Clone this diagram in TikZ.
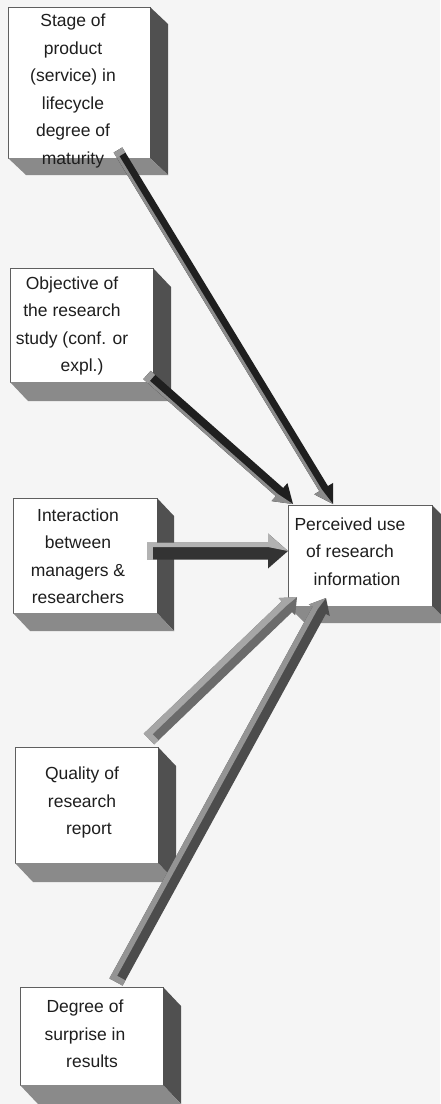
\documentclass[tikz,border=0pt]{standalone}
\usepackage{fontspec}
\setmainfont{Liberation Sans}
\usetikzlibrary{calc}

\definecolor{paper}{RGB}{245,245,245}
\definecolor{sidegray}{RGB}{80,80,80}
\definecolor{bottomgray}{RGB}{138,138,138}
\definecolor{frameline}{RGB}{95,95,95}
\definecolor{inkgray}{RGB}{30,30,30}

\tikzset{
  boxface/.style={draw=frameline, line width=0.8pt, fill=white, inner sep=0pt, outer sep=0pt},
  sideface/.style={fill=sidegray},
  bottomface/.style={fill=bottomgray},
  boxtext/.style={align=center, inner sep=0pt, text=inkgray,
    font=\fontsize{17.5}{27.5}\selectfont},
}

% extruded box: name, centre x, centre y, width, height, depth x, depth y
\newcommand\solidbox[7]{%
  \node[boxface, minimum width=#4pt, minimum height=#5pt] (#1) at (#2,#3) {};
  \fill[sideface] (#1.north east) -- ++(#6,#7) -- ($(#1.south east)+(#6,#7)$)
    -- (#1.south east) -- cycle;
  \fill[bottomface] (#1.south west) -- ++(#6,#7) -- ($(#1.south east)+(#6,#7)$)
    -- (#1.south east) -- cycle;
}

% block arrow: from, to, half shaft, half head, head length, lit side (90/-90), inner edge of lit strip
% colours taken from arrowbody, arrowlight, arrowcap
\newcommand\bararrow[7]{%
  \coordinate (hb) at ($(#2)!#5pt!(#1)$);
  \coordinate (cp) at ($(#1)!6pt!(#2)$);
  \fill[arrowbody] ($(#1)!#3pt!90:(#2)$) -- ($(hb)!#3pt!90:(#2)$) -- ($(hb)!#4pt!90:(#2)$)
    -- (#2) -- ($(hb)!#4pt!-90:(#2)$) -- ($(hb)!#3pt!-90:(#2)$) -- ($(#1)!#3pt!-90:(#2)$) -- cycle;
  \fill[arrowlight] ($(#1)!#3pt!#6:(#2)$) -- ($(hb)!#3pt!#6:(#2)$) -- ($(hb)!#4pt!#6:(#2)$)
    -- (#2) -- ($(hb)!#7pt!#6:(#2)$) -- ($(#1)!#7pt!#6:(#2)$) -- cycle;
  \fill[arrowcap] ($(#1)!#3pt!90:(#2)$) -- ($(cp)!#3pt!90:(#2)$) -- ($(cp)!#3pt!-90:(#2)$)
    -- ($(#1)!#3pt!-90:(#2)$) -- cycle;
}

\begin{document}
\begin{tikzpicture}[x=1pt, y=-1pt]
  \fill[paper] (0,0) rectangle (440,1104);
  \useasboundingbox (0,0) rectangle (440,1104);

  % boxes
  \solidbox{stage}{79}{82.5}{142}{151}{18}{17}
  \solidbox{objective}{81.5}{325}{143}{114}{18}{19}
  \solidbox{interaction}{85}{555.5}{144}{115}{17}{18}
  \solidbox{perceived}{360}{555.5}{144}{101}{17}{17}
  \solidbox{quality}{86.5}{805}{143}{116}{18}{19}
  \solidbox{surprise}{91.5}{1036}{143}{98}{18}{19}

  % labels
  \node[boxtext] (stage-t) at (73,91)
    {Stage of\\product\\(service) in\\lifecycle\\degree of\\maturity};
  \node[boxtext] (objective-t) at (72,326)
    {Objective of\\the research\\study (conf. or\\\hspace*{20pt}expl.)};
  \node[boxtext] (interaction-t) at (78,556)
    {Interaction\\between\\managers \&\\researchers};
  \node[boxtext] (perceived-t) at (350,551.5)
    {Perceived use\\of research\\\hspace*{14pt}information};
  \node[boxtext] (quality-t) at (82,802.5)
    {Quality of\\research\\\hspace*{14pt}report};
  \node[boxtext] (surprise-t) at (85,1034)
    {Degree of\\surprise in\\\hspace*{14pt}results};

  % arrow ends
  \coordinate (a1) at ($(stage.south east)+(-32,-8)$);
  \coordinate (b1) at ($(perceived.north west)+(45,-1)$);
  \coordinate (a2) at ($(objective.south east)+(-6,-7)$);
  \coordinate (b2) at ($(perceived.north west)+(5,-1)$);
  \coordinate (a3) at ($(interaction.east)+(-10,-4.5)$);
  \coordinate (b3) at ($(perceived.west)+(0,-4.5)$);
  \coordinate (a5) at ($(quality.north east)+(-9,-8)$);
  \coordinate (b5) at ($(perceived.south west)+(9,-9)$);
  \coordinate (a6) at ($(surprise.north west)+(96,-5)$);
  \coordinate (b6) at ($(perceived.south west)+(38,-8)$);

  % arrows
  \colorlet{arrowbody}{black!88}
  \colorlet{arrowlight}{black!45}
  \colorlet{arrowcap}{black!40}
  \bararrow{a1}{b1}{5}{11}{18}{-90}{2}
  \bararrow{a2}{b2}{5.5}{12}{18}{-90}{2.5}

  \colorlet{arrowbody}{black!80}
  \colorlet{arrowlight}{black!30}
  \colorlet{arrowcap}{black!30}
  \bararrow{a3}{b3}{8.5}{17.5}{20}{90}{4}

  \colorlet{arrowbody}{black!58}
  \colorlet{arrowlight}{black!35}
  \colorlet{arrowcap}{black!35}
  \bararrow{a5}{b5}{7.5}{12}{14}{90}{1}

  \colorlet{arrowbody}{black!70}
  \colorlet{arrowlight}{black!42}
  \colorlet{arrowcap}{black!42}
  \bararrow{a6}{b6}{7.5}{12}{14}{90}{2}
\end{tikzpicture}
\end{document}
